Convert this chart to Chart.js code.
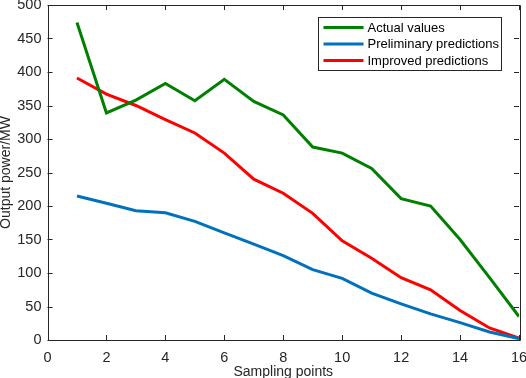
<!DOCTYPE html>
<html><head><meta charset="utf-8">
<script src="https://cdn.jsdelivr.net/npm/chart.js@4/dist/chart.umd.min.js"></script>
<style>html,body{margin:0;padding:0;background:#fff}#wrap{width:526px;height:378px}</style>
</head><body><div id="wrap"><canvas id="c" width="526" height="378"></canvas></div>
<script>
const samplingPoints = [1,2,3,4,5,6,7,8,9,10,11,12,13,14,15,16];
const actualValues = [474,339,358,383,357,389,356,336,288,279,256,211,200,150,93,35];
const preliminaryPredictions = [215,204,193,190,177,160,143,126,105,92,70,54,39,26,12,2];
const improvedPredictions = [391,367,350,329,309,279,240,219,189,148,122,93,75,44,18,3];
const seriesNames = ['Actual values','Preliminary predictions','Improved predictions'];
const xTicks = [0,2,4,6,8,10,12,14,16];
const yTicks = [0,50,100,150,200,250,300,350,400,450,500];

const FONT = 'Liberation Sans, Arial, sans-serif';
const TXT = '#262626';
const AX = '#262626';
const colors = ['#008000','#0072BD','#FF0000'];

function pts(arr){ return samplingPoints.map((x,i)=>({x:x,y:arr[i]})); }

const framePlugin = {
  id:'frame',
  afterDatasetsDraw(chart){
    const ctx = chart.ctx, a = chart.chartArea;
    const xs = chart.scales.x, ys = chart.scales.y;
    ctx.save();
    ctx.strokeStyle = AX; ctx.lineWidth = 1;
    ctx.beginPath();
    ctx.rect(Math.round(a.left)+0.5, Math.round(a.top)+0.5, Math.round(a.right-a.left), Math.round(a.bottom-a.top));
    ctx.stroke();
    const L = 5;
    ctx.beginPath();
    xTicks.forEach(v=>{
      const px = Math.round(xs.getPixelForValue(v))+0.5;
      ctx.moveTo(px, a.bottom); ctx.lineTo(px, a.bottom-L);
      ctx.moveTo(px, a.top); ctx.lineTo(px, a.top+L);
    });
    yTicks.forEach(v=>{
      const py = Math.round(ys.getPixelForValue(v))+0.5;
      ctx.moveTo(a.left, py); ctx.lineTo(a.left+L, py);
      ctx.moveTo(a.right, py); ctx.lineTo(a.right-L, py);
    });
    ctx.stroke();
    // legend
    const bx = 318.5, by = 17.5, bw = 183, bh = 53;
    ctx.fillStyle = '#fff';
    ctx.fillRect(bx, by, bw, bh);
    ctx.strokeStyle = '#262626';
    ctx.strokeRect(bx, by, bw, bh);
    ctx.font = '13px ' + FONT;
    ctx.textBaseline = 'middle';
    chart.data.datasets.forEach((ds,i)=>{
      const yy = by + 10 + i*16.5;
      ctx.strokeStyle = ds.borderColor; ctx.lineWidth = 3;
      ctx.beginPath(); ctx.moveTo(bx+5, yy); ctx.lineTo(bx+45, yy); ctx.stroke();
      ctx.fillStyle = '#000';
      ctx.fillText(ds.label, bx+49, yy+0.5);
    });
    ctx.restore();
  }
};

new Chart(document.getElementById('c'), {
  type:'line',
  data:{ datasets:[
    {label:seriesNames[0], data:pts(actualValues), borderColor:colors[0]},
    {label:seriesNames[1], data:pts(preliminaryPredictions), borderColor:colors[1]},
    {label:seriesNames[2], data:pts(improvedPredictions), borderColor:colors[2]}
  ].map(d=>Object.assign(d,{borderWidth:3, pointRadius:0, tension:0, fill:false, borderJoinStyle:'miter'}))},
  options:{
    responsive:false, animation:false, devicePixelRatio:1,
    layout:{padding:{top:5,right:7,left:0,bottom:0}},
    plugins:{legend:{display:false}, tooltip:{enabled:false}},
    scales:{
      x:{type:'linear', min:0, max:16,
        afterBuildTicks(s){ s.ticks = xTicks.map(v=>({value:v})); },
        afterFit(s){ s.height = 38; s.paddingLeft = 0; s.paddingRight = 0; },
        grid:{display:false, drawTicks:false},
        border:{display:false},
        ticks:{padding:9, font:{family:FONT,size:14.5}, color:TXT, maxRotation:0, autoSkip:false},
        title:{display:true, text:'Sampling points', font:{family:FONT,size:14}, color:TXT, padding:{top:0,bottom:-3}}
      },
      y:{type:'linear', min:0, max:500,
        afterBuildTicks(s){ s.ticks = yTicks.map(v=>({value:v})); },
        afterFit(s){ s.width = 47.5; s.paddingTop = 0; s.paddingBottom = 0; },
        grid:{display:false, drawTicks:false},
        border:{display:false},
        ticks:{padding:6, font:{family:FONT,size:14.5}, color:TXT, autoSkip:false},
        title:{display:true, text:'Output power/MW', font:{family:FONT,size:14}, color:TXT, padding:{top:-2,bottom:2}}
      }
    }
  },
  plugins:[framePlugin]
});
</script></body></html>
